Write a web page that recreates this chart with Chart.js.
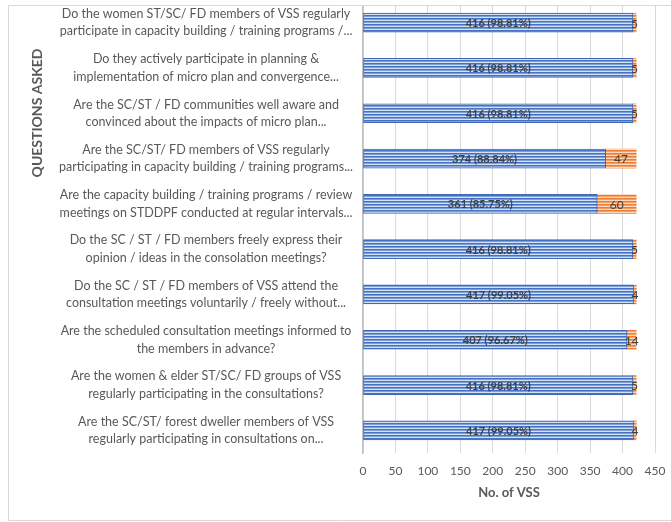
<!DOCTYPE html>
<html>
<head>
<meta charset="utf-8">
<title>VSS survey responses</title>
<script src="https://cdn.jsdelivr.net/npm/chart.js@4.4.1/dist/chart.umd.min.js"></script>
<style>
  html, body { margin: 0; padding: 0; background: #ffffff; }
  canvas { display: block; }
</style>
</head>
<body>
<canvas id="chart" width="671" height="522"></canvas>
<script>
// Survey questions (two display lines each)
const questions = [
  ["Do the women ST/SC/ FD members of VSS regularly", "participate in capacity building / training programs /..."],
  ["Do they actively participate in planning &", "implementation of micro plan and convergence..."],
  ["Are the SC/ST / FD communities well aware and", "convinced about the impacts of micro plan..."],
  ["Are the SC/ST/ FD members of VSS regularly", "participating in capacity building / training programs..."],
  ["Are the capacity building / training programs / review", "meetings on STDDPF conducted at regular intervals..."],
  ["Do the SC / ST / FD members freely express their", "opinion / ideas in the consolation meetings?"],
  ["Do the SC / ST / FD members of VSS attend the", "consultation meetings voluntarily / freely without..."],
  ["Are the scheduled consultation meetings informed to", "the members in advance?"],
  ["Are the women & elder ST/SC/ FD groups of VSS", "regularly participating in the consultations?"],
  ["Are the SC/ST/ forest dweller members of VSS", "regularly participating in consultations on..."]
];

// Number of VSS answering yes / no to each question
const yesCounts = [416, 416, 416, 374, 361, 416, 417, 407, 416, 417];
const noCounts  = [5, 5, 5, 47, 60, 5, 4, 14, 5, 4];

// Value axis range
const axisMin = 0;
const axisMax = 450;
const axisStep = 50;

const FONT = "Lato, 'Open Sans', sans-serif";
const TEXT = '#595959';

// Narrow horizontal stripe fills
function stripes(rows) {
  const c = document.createElement('canvas');
  c.width = 4; c.height = rows.length;
  const g = c.getContext('2d');
  rows.forEach((col, i) => { g.fillStyle = col; g.fillRect(0, i, 4, 1); });
  return g.createPattern(c, 'repeat');
}
const ctx = document.getElementById('chart').getContext('2d');
const blueFill = stripes(['#4472C4', '#7f9fd9', '#d4e0f4']);
const orangeFill = stripes(['#ED7D31', '#f2a06a', '#fbd9c2']);

// Value labels: "count (share%)" on the yes segment, count on the no segment
const valueLabels = {
  id: 'valueLabels',
  afterDatasetsDraw(chart) {
    const c = chart.ctx;
    c.save();
    c.textAlign = 'center';
    c.textBaseline = 'middle';
    c.fillStyle = '#404040';
    chart.data.datasets.forEach((ds, di) => {
      const meta = chart.getDatasetMeta(di);
      meta.data.forEach((el, i) => {
        const p = el.getProps(['x', 'y', 'base'], true);
        const v = ds.data[i];
        let text;
        if (di === 0) {
          const share = (v / (v + noCounts[i]) * 100).toFixed(2);
          text = v + ' (' + share + '%)';
          c.font = 'bold 11px ' + FONT;
        } else {
          text = String(v);
          c.font = '12px ' + FONT;
        }
        c.fillText(text, (p.x + p.base) / 2, p.y + 1);
      });
    });
    c.restore();
  }
};

// Chart frame and the vertical "QUESTIONS ASKED" caption
const frame = {
  id: 'frame',
  afterDraw(chart) {
    const c = chart.ctx;
    const w = chart.width;
    c.save();
    c.fillStyle = '#ffffff';
    c.fillRect(0, 0, w, 5);
    c.strokeStyle = '#d9d9d9';
    c.lineWidth = 1;
    c.beginPath();
    c.moveTo(w, 5.5);
    c.lineTo(8.5, 5.5);
    c.lineTo(8.5, 520.5);
    c.lineTo(w, 520.5);
    c.stroke();

    c.translate(37, 113);
    c.rotate(-Math.PI / 2);
    c.fillStyle = TEXT;
    c.font = 'bold 14px ' + FONT;
    c.textAlign = 'center';
    c.textBaseline = 'middle';
    c.fillText('QUESTIONS ASKED', 0, 0);
    c.restore();
  }
};

new Chart(ctx, {
  type: 'bar',
  data: {
    labels: questions,
    datasets: [
      {
        label: 'Yes',
        data: yesCounts,
        backgroundColor: blueFill,
        borderColor: '#3e66b3',
        borderWidth: 1,
        borderSkipped: false,
        barThickness: 19
      },
      {
        label: 'No',
        data: noCounts,
        backgroundColor: orangeFill,
        borderColor: '#f4b183',
        borderWidth: 0,
        barThickness: 19
      }
    ]
  },
  options: {
    indexAxis: 'y',
    responsive: false,
    animation: false,
    layout: { padding: { left: 0, right: 16, top: 0, bottom: 0 } },
    plugins: {
      legend: { display: false },
      tooltip: { enabled: false },
      title: { display: false }
    },
    scales: {
      x: {
        stacked: true,
        min: axisMin,
        max: axisMax,
        ticks: {
          stepSize: axisStep,
          color: TEXT,
          padding: 11,
          font: { family: FONT, size: 12 }
        },
        grid: { color: '#d9d9d9', drawTicks: false, lineWidth: 1 },
        border: { display: false },
        title: {
          display: true,
          text: 'No. of VSS',
          color: TEXT,
          font: { family: FONT, size: 13, weight: 'bold' },
          padding: { top: 0, bottom: 21 }
        },
        afterFit(scale) {
          scale.height = 69;
          scale.paddingLeft = 0;
          scale.paddingRight = 0;
        }
      },
      y: {
        stacked: true,
        grid: { display: false, drawTicks: false },
        border: { display: true, color: '#bfbfbf', width: 1.5 },
        ticks: {
          crossAlign: 'center',
          padding: 10,
          color: TEXT,
          autoSkip: false,
          font: { family: FONT, size: 12.5, lineHeight: 1.4 }
        },
        afterFit(scale) {
          scale.width = 363;
          scale.paddingTop = 0;
          scale.paddingBottom = 0;
        }
      }
    }
  },
  plugins: [valueLabels, frame]
});
</script>
</body>
</html>
